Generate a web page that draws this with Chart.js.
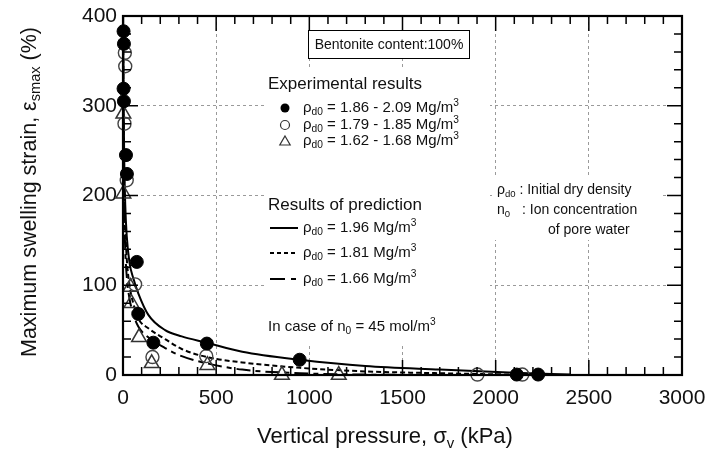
<!DOCTYPE html>
<html>
<head>
<meta charset="utf-8">
<script src="https://cdn.jsdelivr.net/npm/chart.js@4.4.0/dist/chart.umd.min.js"></script>
<style>
  body { margin: 0; background: #fff; }
</style>
</head>
<body>
<canvas id="chart" width="705" height="461"></canvas>
<script>
// experimental results (vertical pressure kPa, max swelling strain %)
const filledX = [3, 5, 3, 5, 16, 21, 74, 82, 163, 450, 948, 2113, 2228];
const filledY = [383, 369, 319, 305, 245, 224, 126, 68, 36, 35, 17, 0.5, 0.5];
const openX = [10, 12, 8, 20, 65, 158, 447, 1902, 2143];
const openY = [359, 344, 280, 217, 101, 20, 21, 0.5, 0.5];
const triX = [2, 2, 40, 45, 86, 154, 453, 853, 1158];
const triY = [291, 202, 98, 80, 42, 13, 11, 0, 0];

// prediction curves
const curveX = [1, 2, 4, 7, 12, 20, 35, 55, 82, 136, 226, 315, 450, 640, 950, 1300, 1700, 2100, 2400];
const solidY = [400, 350, 285, 235, 190, 155, 125, 108, 91, 67, 50, 43, 36, 26, 17, 10, 6, 2.5, 0.5];
const shortY = [380, 320, 255, 205, 165, 130, 100, 80, 63, 52, 40, 29, 20, 14, 8, 4, 2, 0.5, 0];
const longY = [350, 290, 225, 180, 140, 110, 85, 68, 54, 42, 30, 21, 13, 6, 2, 0.5, 0, 0, 0];

const xTicks = [0, 500, 1000, 1500, 2000, 2500, 3000];
const yTicks = [0, 100, 200, 300, 400];

const FONT = "'Liberation Sans', Arial, Helvetica, sans-serif";

function pts(xs, ys) {
  return xs.map(function (x, i) { return { x: x, y: ys[i] }; });
}

// draws text with sub/superscripts, parts = [[text, mode], ...]
function drawRich(ctx, parts, x, y, size, align) {
  let w = 0;
  parts.forEach(function (p) {
    const s = p[1] ? size * 0.68 : size;
    ctx.font = s + 'px ' + FONT;
    w += ctx.measureText(p[0]).width;
  });
  let cx = x;
  if (align === 'center') cx = x - w / 2;
  ctx.textAlign = 'left';
  ctx.textBaseline = 'middle';
  parts.forEach(function (p) {
    const s = p[1] ? size * 0.68 : size;
    ctx.font = s + 'px ' + FONT;
    let dy = 0;
    if (p[1] === 'sub') dy = size * 0.3;
    if (p[1] === 'sup') dy = -size * 0.33;
    ctx.fillText(p[0], cx, y + dy);
    cx += ctx.measureText(p[0]).width;
  });
}

function marker(ctx, kind, x, y, r) {
  ctx.save();
  ctx.beginPath();
  if (kind === 'tri') {
    ctx.moveTo(x, y - r);
    ctx.lineTo(x + r * 0.866, y + r * 0.5);
    ctx.lineTo(x - r * 0.866, y + r * 0.5);
    ctx.closePath();
  } else {
    ctx.arc(x, y, r, 0, Math.PI * 2);
  }
  if (kind === 'filled') {
    ctx.fillStyle = '#000';
    ctx.fill();
  } else {
    ctx.strokeStyle = '#333';
    ctx.lineWidth = 1.2;
    ctx.stroke();
  }
  ctx.restore();
}

const decor = {
  id: 'decor',
  beforeDatasetsDraw: function (chart) {
    const ctx = chart.ctx;
    ctx.save();
    ctx.fillStyle = '#fff';
    ctx.fillRect(266, 70, 224, 273);
    ctx.fillRect(494, 178, 168, 62);
    ctx.fillRect(308, 30, 162, 28);
    ctx.restore();
  },
  afterDatasetsDraw: function (chart) {
    const ctx = chart.ctx;
    const a = chart.chartArea;
    const xs = chart.scales.x, ys = chart.scales.y;
    ctx.save();
    ctx.strokeStyle = '#000';
    ctx.lineWidth = 1.5;
    ctx.beginPath();
    for (let v = 0; v <= 3000; v += 100) {
      const px = xs.getPixelForValue(v);
      const len = v % 500 === 0 ? 15 : 8;
      ctx.moveTo(px, a.bottom); ctx.lineTo(px, a.bottom - len);
      ctx.moveTo(px, a.top); ctx.lineTo(px, a.top + len);
    }
    for (let v = 0; v <= 400; v += 20) {
      const py = ys.getPixelForValue(v);
      const len = v % 100 === 0 ? 15 : 8;
      ctx.moveTo(a.left, py); ctx.lineTo(a.left + len, py);
      ctx.moveTo(a.right, py); ctx.lineTo(a.right - len, py);
    }
    ctx.stroke();
    ctx.lineWidth = 2.2;
    ctx.strokeRect(a.left, a.top, a.right - a.left, a.bottom - a.top);
    ctx.restore();
  },
  afterDraw: function (chart) {
    const ctx = chart.ctx;
    ctx.save();
    ctx.fillStyle = '#111';

    // bentonite box
    ctx.strokeStyle = '#000';
    ctx.lineWidth = 1;
    ctx.strokeRect(308.5, 30.5, 161, 28);
    drawRich(ctx, [['Bentonite content:100%']], 389, 45, 14, 'center');

    // legend
    drawRich(ctx, [['Experimental results']], 268, 84, 17);
    const rho = function (rest, sup) {
      const p = [['ρ'], ['d0', 'sub'], [rest]];
      if (sup) p.push(['3', 'sup']);
      return p;
    };
    marker(ctx, 'filled', 285, 108, 4.5);
    drawRich(ctx, rho(' = 1.86 - 2.09 Mg/m', true), 303, 108, 15);
    marker(ctx, 'open', 285, 125, 4.5);
    drawRich(ctx, rho(' = 1.79 - 1.85 Mg/m', true), 303, 125, 15);
    marker(ctx, 'tri', 285, 142, 6);
    drawRich(ctx, rho(' = 1.62 - 1.68 Mg/m', true), 303, 141, 15);

    drawRich(ctx, [['Results of prediction']], 268, 205, 17);
    const dashes = [[], [4, 3], [15, 6, 5, 6]];
    const texts = [' = 1.96 Mg/m', ' = 1.81 Mg/m', ' = 1.66 Mg/m'];
    [228, 253, 279].forEach(function (y, i) {
      ctx.save();
      ctx.strokeStyle = '#000';
      ctx.lineWidth = 2;
      ctx.setLineDash(dashes[i]);
      ctx.beginPath();
      ctx.moveTo(270, y); ctx.lineTo(298, y);
      ctx.stroke();
      ctx.restore();
      drawRich(ctx, rho(texts[i], true), 303, y, 15);
    });
    drawRich(ctx, [['In case of n'], ['0', 'sub'], [' = 45 mol/m'], ['3', 'sup']], 268, 327, 15);

    // notes
    drawRich(ctx, [['ρ'], ['d0', 'sub'], [' : Initial dry density']], 497, 190, 14);
    drawRich(ctx, [['n'], ['0', 'sub']], 497, 210, 14);
    drawRich(ctx, [[': Ion concentration']], 522, 210, 14);
    drawRich(ctx, [['of pore water']], 548, 230, 14);

    // axis titles
    drawRich(ctx, [['Vertical pressure, σ'], ['v', 'sub'], [' (kPa)']], 385, 437, 22, 'center');
    ctx.translate(30, 192);
    ctx.rotate(-Math.PI / 2);
    drawRich(ctx, [['Maximum swelling strain, ε'], ['smax', 'sub'], [' (%)']], 0, 0, 21.5, 'center');
    ctx.restore();
  }
};

function gridColor(lo, hi) {
  return function (c) {
    const v = c.tick ? c.tick.value : lo;
    return (v > lo && v < hi) ? '#9a9a9a' : 'rgba(0,0,0,0)';
  };
}

new Chart(document.getElementById('chart'), {
  type: 'scatter',
  data: {
    datasets: [
      {
        data: pts(filledX, filledY),
        pointStyle: 'circle',
        pointRadius: 6.5,
        backgroundColor: '#000',
        borderColor: '#000',
        borderWidth: 1,
        clip: false
      },
      {
        data: pts(openX, openY),
        pointStyle: 'circle',
        pointRadius: 6.5,
        backgroundColor: 'rgba(0,0,0,0)',
        borderColor: '#444',
        borderWidth: 1.4,
        clip: false
      },
      {
        data: pts(triX, triY),
        pointStyle: 'triangle',
        pointRadius: 8.5,
        backgroundColor: 'rgba(0,0,0,0)',
        borderColor: '#333',
        borderWidth: 1.5,
        clip: false
      },
      {
        data: pts(curveX, solidY),
        showLine: true,
        pointRadius: 0,
        borderColor: '#000',
        borderWidth: 2,
        cubicInterpolationMode: 'monotone'
      },
      {
        data: pts(curveX, shortY),
        showLine: true,
        pointRadius: 0,
        borderColor: '#000',
        borderWidth: 2,
        borderDash: [5, 3],
        cubicInterpolationMode: 'monotone'
      },
      {
        data: pts(curveX, longY),
        showLine: true,
        pointRadius: 0,
        borderColor: '#000',
        borderWidth: 2,
        borderDash: [14, 5, 5, 5],
        cubicInterpolationMode: 'monotone'
      }
    ]
  },
  options: {
    responsive: false,
    animation: false,
    layout: { padding: { left: 0, right: 23, top: 16, bottom: 0 } },
    plugins: {
      legend: { display: false },
      tooltip: { enabled: false }
    },
    scales: {
      x: {
        type: 'linear',
        min: 0,
        max: 3000,
        afterBuildTicks: function (s) { s.ticks = xTicks.map(function (v) { return { value: v }; }); },
        afterFit: function (s) { s.height = 86; s.paddingLeft = 0; s.paddingRight = 0; },
        ticks: {
          padding: 11,
          color: '#111',
          font: { family: FONT, size: 21 },
          maxRotation: 0,
          callback: function (v) { return String(v); }
        },
        grid: { color: gridColor(0, 3000), lineWidth: 1, drawTicks: false },
        border: { display: false, dash: [3, 3] }
      },
      y: {
        min: 0,
        max: 400,
        afterBuildTicks: function (s) { s.ticks = yTicks.map(function (v) { return { value: v }; }); },
        afterFit: function (s) { s.width = 123; s.paddingTop = 0; s.paddingBottom = 0; },
        ticks: {
          padding: 6,
          color: '#111',
          font: { family: FONT, size: 21 },
          callback: function (v) { return String(v); }
        },
        grid: { color: gridColor(0, 400), lineWidth: 1, drawTicks: false },
        border: { display: false, dash: [3, 3] }
      }
    }
  },
  plugins: [decor]
});
</script>
</body>
</html>
